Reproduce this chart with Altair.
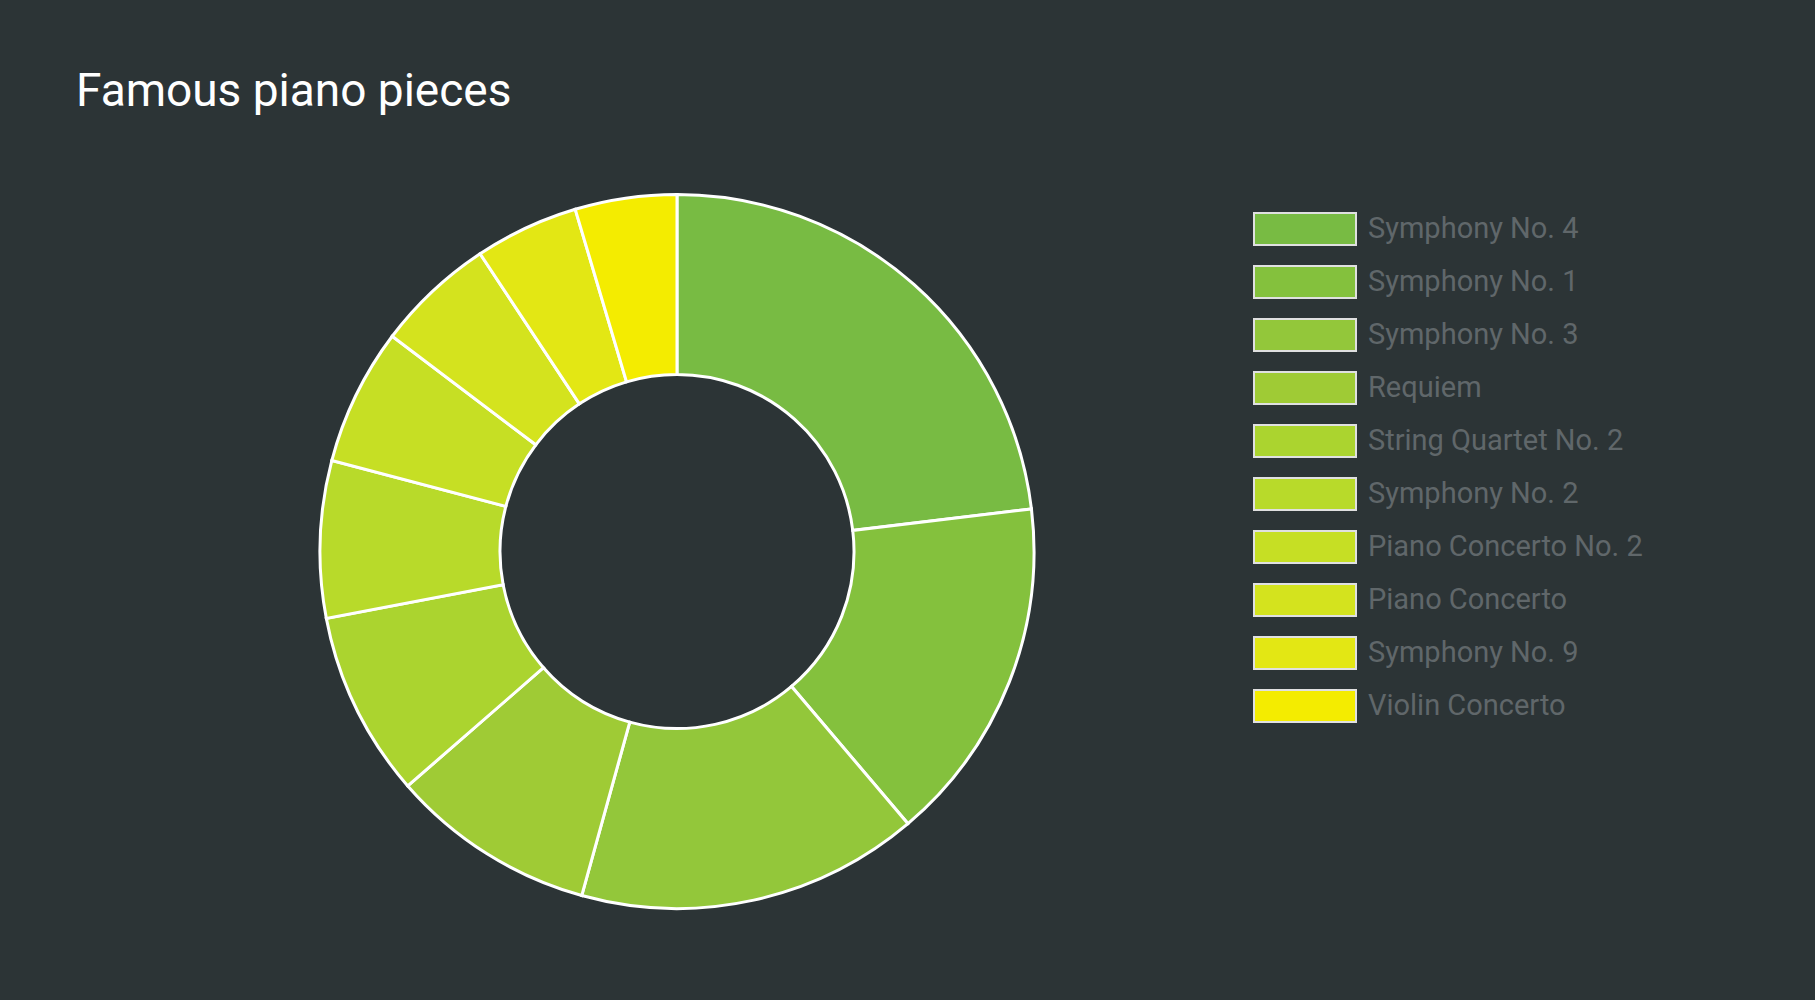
import altair as alt
import pandas as pd

pieces = ["Symphony No. 4", "Symphony No. 1", "Symphony No. 3", "Requiem",
          "String Quartet No. 2", "Symphony No. 2", "Piano Concerto No. 2",
          "Piano Concerto", "Symphony No. 9", "Violin Concerto"]
values = [231, 157, 155, 93, 84, 71, 62, 54, 47, 46]
colors = ["#78bb43", "#84c13d", "#93c73a", "#9fcb35", "#abd42f",
          "#b8da2a", "#c6df24", "#d4e31e", "#e3e714", "#f4ec00"]

df = pd.DataFrame({"piece": pieces, "value": values, "rank": list(range(len(pieces)))})

chart = alt.Chart(df).mark_arc(
    outerRadius=357, innerRadius=177, stroke="white", strokeWidth=3
).encode(
    theta=alt.Theta("value:Q", stack=True),
    order=alt.Order("rank:Q"),
    color=alt.Color(
        "piece:N",
        sort=pieces,
        scale=alt.Scale(domain=pieces, range=colors),
        legend=alt.Legend(
            title=None, orient="none", legendX=1253, legendY=77,
            symbolType="M-1,-1H5.375V1H-1Z", symbolSize=1024,
            symbolStrokeColor="#e0e0e0", symbolStrokeWidth=2, symbolOpacity=1,
            labelFont="Roboto", labelFontSize=29, labelColor="#60676a",
            labelOffset=81, labelLimit=0, rowPadding=13,
        ),
    ),
).properties(
    width=1815, height=1000,
    autosize=alt.AutoSizeParams(type="fit", contains="padding"),
    padding={"left": 0, "top": 69, "right": 461, "bottom": 32},
    background="#2c3436",
    title=alt.TitleParams(
        "Famous piano pieces", anchor="start", dx=76, fontSize=46,
        font="Roboto", fontWeight="normal", color="#ffffff", baseline="top", offset=19,
    ),
).configure_view(stroke=None)

chart.save("out.html", embed_options={"renderer": "svg", "actions": False})
